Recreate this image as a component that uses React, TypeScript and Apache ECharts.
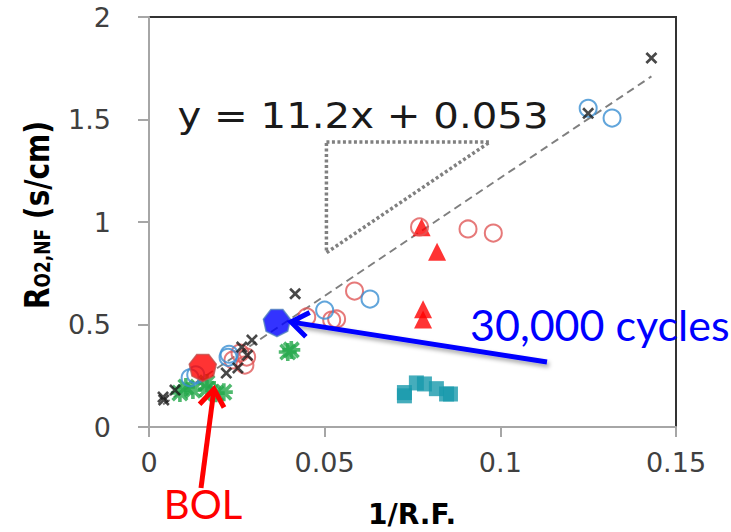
import React, { useEffect, useRef } from 'react';
import * as echarts from 'echarts';

// ---- tick labels ----
const xTickLabels = ['0', '0.05', '0.1', '0.15'];
const yTickLabels = ['0', '0.5', '1', '1.5', '2'];

// ---- data series (x = 1/R.F., y = R_O2,NF) ----
const blackCross = [
  [0.004, 0.146], [0.0042, 0.132], [0.0074, 0.18], [0.022, 0.263], [0.0253, 0.288],
  [0.028, 0.35], [0.0264, 0.39], [0.0293, 0.424], [0.0416, 0.65], [0.125, 1.53], [0.143, 1.8],
];
const blueCircles = [
  [0.0117, 0.24], [0.0133, 0.255], [0.0225, 0.34], [0.0228, 0.355], [0.05, 0.57],
  [0.0629, 0.624], [0.125, 1.555], [0.1318, 1.507],
];
const redCircles = [
  [0.0239, 0.327], [0.0259, 0.361], [0.0273, 0.302], [0.0278, 0.341], [0.0449, 0.537],
  [0.052, 0.522], [0.0534, 0.527], [0.0585, 0.663], [0.077, 0.976], [0.0908, 0.966], [0.098, 0.946],
];
const redTriangles = [[0.0776, 0.975], [0.082, 0.855], [0.078, 0.575], [0.078, 0.525]];
const greenStars = [
  [0.0088, 0.166], [0.0105, 0.195], [0.0125, 0.18], [0.0165, 0.185], [0.0165, 0.215],
  [0.019, 0.165], [0.0213, 0.17], [0.0395, 0.366], [0.0405, 0.376],
];
const tealSquares = [
  [0.0727, 0.152], [0.0727, 0.168], [0.0761, 0.215], [0.0784, 0.21], [0.0818, 0.187],
  [0.0847, 0.161], [0.0858, 0.161],
];
const bolPoint = [[0.0153, 0.288]];
const cyclesPoint = [[0.0364, 0.507]];
const trendLine = [[0.004, 0.11], [0.143, 1.71]];
const slopeTriangle = [[0.0505, 1.39], [0.097, 1.39], [0.0505, 0.85], [0.0505, 1.39]];

// ---- symbols ----
const crossPath = 'path://M0.5,3.5L3.5,0.5L10,7L16.5,0.5L19.5,3.5L13,10L19.5,16.5L16.5,19.5L10,13L3.5,19.5L0.5,16.5L7,10Z';
const starPath =
  'path://M0,8L20,8L20,12L0,12Z M8,0L12,0L12,20L8,20Z M0.5,3.3L3.3,0.5L19.5,16.7L16.7,19.5Z M16.7,0.5L19.5,3.3L3.3,19.5L0.5,16.7Z';
const heptPath = 'path://M10,20L2.18,16.23L0.25,7.77L5.66,0.99L14.34,0.99L19.75,7.77L17.82,16.23Z';

function arrowHead(start: number[], tip: number[], len: number, deg: number) {
  const dx = start[0] - tip[0];
  const dy = start[1] - tip[1];
  const d = Math.hypot(dx, dy);
  const ux = dx / d;
  const uy = dy / d;
  const a = (deg * Math.PI) / 180;
  const c = Math.cos(a);
  const s = Math.sin(a);
  const w1 = [tip[0] + len * (ux * c - uy * s), tip[1] + len * (ux * s + uy * c)];
  const w2 = [tip[0] + len * (ux * c + uy * s), tip[1] + len * (-ux * s + uy * c)];
  return [w1, tip, w2];
}

export default function App() {
  const ref = useRef<HTMLDivElement>(null);

  useEffect(() => {
    if (!ref.current) return;
    const chart = echarts.init(ref.current, null, { renderer: 'svg' });

    const blueStart = [547, 362];
    const blueTip = [291, 322];
    const redStart = [201, 488];
    const redTip = [214, 389];

    const axisGray = '#a6a6a6';
    const labelStyle = {
      fontFamily: 'DejaVu Sans',
      fontSize: 27,
      color: '#404040',
    };

    const option: any = {
      animation: false,
      backgroundColor: '#ffffff',
      grid: {
        left: 149,
        top: 17,
        width: 527,
        height: 410,
        show: true,
        borderColor: '#333333',
        borderWidth: 2,
        backgroundColor: 'transparent',
      },
      xAxis: {
        type: 'value',
        min: 0,
        max: 0.15,
        interval: 0.05,
        axisLine: { show: true, onZero: false, lineStyle: { color: axisGray, width: 2 } },
        axisTick: { show: true, length: 10, lineStyle: { color: axisGray, width: 2 } },
        splitLine: { show: false },
        axisLabel: {
          ...labelStyle,
          margin: 22,
          formatter: (v: number) => xTickLabels[Math.round(v / 0.05)] ?? '',
        },
      },
      yAxis: {
        type: 'value',
        min: 0,
        max: 2,
        interval: 0.5,
        axisLine: { show: true, onZero: false, lineStyle: { color: axisGray, width: 2 } },
        axisTick: { show: true, length: 11, lineStyle: { color: axisGray, width: 2 } },
        splitLine: { show: false },
        axisLabel: {
          ...labelStyle,
          margin: 38,
          formatter: (v: number) => yTickLabels[Math.round(v / 0.5)] ?? '',
        },
      },
      series: [
        {
          type: 'line',
          data: trendLine,
          showSymbol: false,
          symbol: 'none',
          silent: true,
          z: 1,
          lineStyle: { color: '#7f7f7f', width: 2, type: [8, 5] },
        },
        {
          type: 'line',
          data: slopeTriangle,
          showSymbol: false,
          symbol: 'none',
          silent: true,
          z: 1,
          lineStyle: { color: '#808080', width: 3.5, type: [3, 2.5] },
        },
        {
          type: 'scatter',
          data: tealSquares,
          symbol: 'rect',
          symbolSize: 15,
          itemStyle: { color: '#1798ab' },
          z: 2,
        },
        {
          type: 'scatter',
          data: greenStars,
          symbol: starPath,
          symbolSize: 18,
          itemStyle: { color: '#23a84a' },
          z: 2,
        },
        {
          type: 'scatter',
          data: redTriangles,
          symbol: 'triangle',
          symbolSize: 18,
          itemStyle: { color: '#ff0000' },
          z: 2,
        },
        {
          type: 'scatter',
          data: redCircles,
          symbol: 'circle',
          symbolSize: 17,
          itemStyle: { color: 'transparent', borderColor: '#e05858', borderWidth: 2 },
          z: 3,
        },
        {
          type: 'scatter',
          data: blueCircles,
          symbol: 'circle',
          symbolSize: 17,
          itemStyle: { color: 'transparent', borderColor: '#3a8fd2', borderWidth: 2 },
          z: 3,
        },
        {
          type: 'scatter',
          data: blackCross,
          symbol: crossPath,
          symbolSize: 12,
          itemStyle: { color: '#1a1a1a' },
          z: 4,
        },
        {
          type: 'scatter',
          data: bolPoint,
          symbol: heptPath,
          symbolSize: 27,
          itemStyle: { color: '#ff0000', borderColor: '#c0504d', borderWidth: 1.5 },
          z: 5,
        },
        {
          type: 'scatter',
          data: cyclesPoint,
          symbol: heptPath,
          symbolSize: 27,
          itemStyle: { color: '#0000ff', borderColor: '#4f81bd', borderWidth: 1.5 },
          z: 5,
        },
      ],
      graphic: [
        {
          type: 'text',
          x: 33,
          y: 215,
          rotation: Math.PI / 2,
          scaleY: 1.2,
          z: 10,
          style: {
            text: '{r|R}{s|O2,NF}{r| (s/cm)}',
            align: 'center',
            verticalAlign: 'middle',
            fill: '#000000',
            rich: {
              r: {
                fontFamily: 'DejaVu Sans',
                fontWeight: 'bold',
                fontSize: 28,
                lineHeight: 34,
                fill: '#000000',
                verticalAlign: 'bottom',
              },
              s: {
                fontFamily: 'DejaVu Sans',
                fontWeight: 'bold',
                fontSize: 17,
                lineHeight: 16,
                fill: '#000000',
                verticalAlign: 'bottom',
              },
            },
          },
        },
        {
          type: 'text',
          x: 412,
          y: 514,
          z: 10,
          style: {
            text: '1/R.F.',
            fontFamily: 'DejaVu Sans',
            fontWeight: 'bold',
            fontSize: 28,
            fill: '#000000',
            align: 'center',
            verticalAlign: 'middle',
          },
        },
        {
          type: 'text',
          x: 363,
          y: 116,
          scaleX: 1.15,
          z: 10,
          style: {
            text: 'y = 11.2x + 0.053',
            fontFamily: 'DejaVu Sans',
            fontSize: 35,
            fill: '#1a1a1a',
            align: 'center',
            verticalAlign: 'middle',
          },
        },
        {
          type: 'text',
          x: 470,
          y: 324,
          z: 10,
          style: {
            text: '30,000 cycles',
            fontFamily: 'Lato',
            fontSize: 43,
            fill: '#0000ff',
            align: 'left',
            verticalAlign: 'middle',
          },
        },
        {
          type: 'text',
          x: 203,
          y: 504,
          z: 10,
          style: {
            text: 'BOL',
            fontFamily: 'Lato',
            fontSize: 40,
            fill: '#ff0000',
            align: 'center',
            verticalAlign: 'middle',
          },
        },
        {
          type: 'line',
          z: 9,
          shape: { x1: blueStart[0], y1: blueStart[1], x2: blueTip[0] + 4, y2: blueTip[1] + 0.6 },
          style: {
            stroke: '#0000ff',
            lineWidth: 5,
            shadowBlur: 4,
            shadowColor: 'rgba(0,0,0,0.35)',
            shadowOffsetX: 2,
            shadowOffsetY: 3,
          },
        },
        {
          type: 'polyline',
          z: 9,
          shape: { points: arrowHead(blueStart, blueTip, 21, 36) },
          style: { stroke: '#0000ff', lineWidth: 5, fill: null, lineJoin: 'miter' },
        },
        {
          type: 'line',
          z: 9,
          shape: { x1: redStart[0], y1: redStart[1], x2: redTip[0] - 0.5, y2: redTip[1] + 4 },
          style: { stroke: '#ff0000', lineWidth: 5 },
        },
        {
          type: 'polyline',
          z: 9,
          shape: { points: arrowHead(redStart, redTip, 21, 36) },
          style: { stroke: '#ff0000', lineWidth: 5, fill: null, lineJoin: 'miter' },
        },
      ],
    };

    chart.setOption(option);
    return () => {
      chart.dispose();
    };
  }, []);

  return (
    <div
      ref={ref}
      style={{ position: 'absolute', left: 0, top: 0, width: 731, height: 532, background: '#fff' }}
    />
  );
}
